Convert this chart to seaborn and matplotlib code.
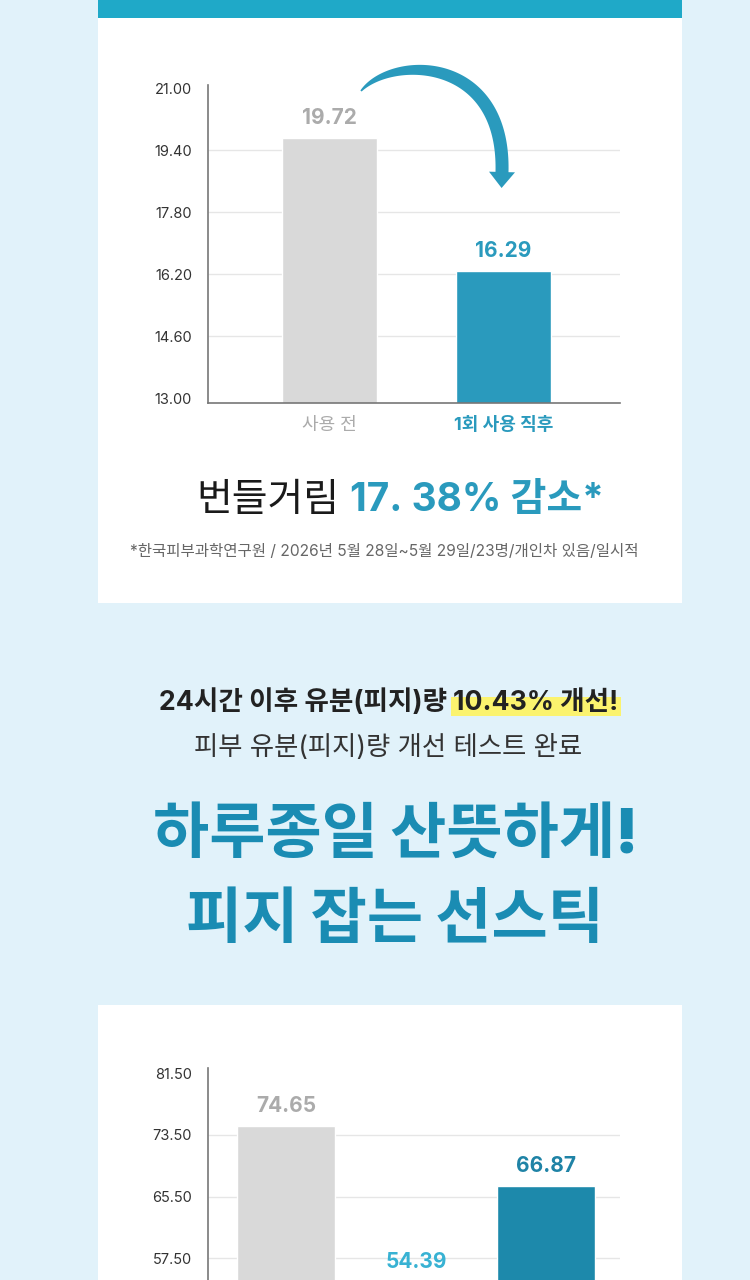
import matplotlib
matplotlib.use("Agg")
import matplotlib.pyplot as plt
import seaborn as sns
import numpy as np
import pandas as pd
from matplotlib.patches import Rectangle, Polygon

# ---------------- data ----------------
chart1_categories = ["사용 전", "1회 사용 직후"]
chart1_values = [19.72, 16.29]
chart1_yticks = [13.00, 14.60, 16.20, 17.80, 19.40, 21.00]

chart2_categories = ["사용 전", "1회 사용 직후", "24시간 이후"]
chart2_values = [74.65, 54.39, 66.87]
chart2_yticks = [57.50, 65.50, 73.50, 81.50]

headline_parts = ["번들거림", "17. 38% 감소*"]
footnote = "*한국피부과학연구원 / 2026년 5월 28일~5월 29일/23명/개인차 있음/일시적"
claim_parts = ["24시간 이후 유분(피지)량", "10.43% 개선!"]
subclaim = "피부 유분(피지)량 개선 테스트 완료"
title_lines = ["하루종일 산뜻하게!", "피지 잡는 선스틱"]

# ---------------- style ----------------
BG = "#e1f2fa"
TEAL = "#2a9abd"
TEAL_DARK = "#1d89ab"
TEAL_LIGHT = "#5fc2dc"
GRAY_BAR = "#d9d9d9"
GRAY_TXT = "#ababab"

sns.set_theme(style="white")
plt.rcParams['font.family'] = ['Inter', 'Noto Sans CJK KR', 'DejaVu Sans']

W, H = 750, 1280
fig = plt.figure(figsize=(7.5, 12.8), dpi=100)
fig.patch.set_facecolor(BG)


def fx(x):
    return x / W


def fy(y):
    return 1 - y / H


def add_rect(x0, y0, x1, y1, color, z=-5):
    fig.add_artist(Rectangle((fx(x0), fy(y1)), (x1 - x0) / W, (y1 - y0) / H,
                             transform=fig.transFigure, facecolor=color,
                             edgecolor='none', zorder=z))


def px_axes(left, top, right, bottom):
    return fig.add_axes([fx(left), fy(bottom), (right - left) / W, (bottom - top) / H])


# cards
add_rect(98, -10, 682, 603, "white")
add_rect(98, -10, 682, 18, "#1fa9c8", z=-4)
add_rect(98, 1005, 682, 1300, "white")

# ---------------- chart 1 ----------------
ax1 = px_axes(208, 85, 620, 403)
df1 = pd.DataFrame({"cat": chart1_categories, "val": chart1_values})
sns.barplot(data=df1, x="cat", y="val", hue="cat",
            palette=[GRAY_BAR, TEAL], saturation=1, width=0.55,
            legend=False, ax=ax1, zorder=2)
ax1.set_xlim(-0.70, 1.67)
ax1.set_ylim(13 - 5 / 38.75, 21 + 3 / 38.75)
ax1.hlines(chart1_yticks[1:-1], -0.70, 1.67, color="#e6e6e6", lw=1, zorder=0.5)


def style_axes(ax, yticks):
    ax.set_facecolor('none')
    for s in ["top", "right"]:
        ax.spines[s].set_visible(False)
    for s in ["left", "bottom"]:
        ax.spines[s].set_color("#777777")
        ax.spines[s].set_linewidth(1.2)
    ax.set_yticks(yticks)
    ax.set_yticklabels([f"{v:.2f}" for v in yticks])
    ax.tick_params(axis='y', length=0, pad=11.5, labelsize=10.5, labelcolor="#333333")
    ax.tick_params(axis='x', length=0, pad=10, labelsize=13)
    ax.set_xlabel("")
    ax.set_ylabel("")


style_axes(ax1, chart1_yticks)
for lbl, col, wt in zip(ax1.get_xticklabels(), [GRAY_TXT, TEAL], ["medium", "bold"]):
    lbl.set_color(col)
    lbl.set_fontweight(wt)

for cont, col in zip(ax1.containers, [GRAY_TXT, TEAL]):
    ax1.bar_label(cont, fmt="%.2f", padding=7, color=col, fontsize=15, fontweight='bold')

# curved arrow (decoration)
P = np.array([[361, 91], [392, 55], [505, 55], [502, 172]], dtype=float)
t = np.linspace(0, 1, 100)
pts = (((1 - t) ** 3)[:, None] * P[0] + (3 * (1 - t) ** 2 * t)[:, None] * P[1]
       + (3 * (1 - t) * t ** 2)[:, None] * P[2] + (t ** 3)[:, None] * P[3])
d = (3 * ((1 - t) ** 2)[:, None] * (P[1] - P[0]) + (6 * (1 - t) * t)[:, None] * (P[2] - P[1])
     + (3 * t ** 2)[:, None] * (P[3] - P[2]))
d = d / np.linalg.norm(d, axis=1)[:, None]
nrm = np.stack([-d[:, 1], d[:, 0]], axis=1)
wid = 0.8 + 5.7 * (1 - (1 - t) ** 3)
left = pts + nrm * wid[:, None]
right = pts - nrm * wid[:, None]
end_dir = d[-1]
end_n = nrm[-1]
head = [P[3] + end_n * 13, P[3] + end_dir * 16, P[3] - end_n * 13]
poly = np.vstack([left, head, right[::-1]])
poly_fig = np.column_stack([poly[:, 0] / W, 1 - poly[:, 1] / H])
fig.add_artist(Polygon(poly_fig, closed=True, transform=fig.transFigure,
                       facecolor=TEAL, edgecolor='none', zorder=5))

# ---------------- texts ----------------
renderer = fig.canvas.get_renderer()


def segmented(y, segments, size, xc, gap=0.0):
    texts = []
    for s, col, wt in segments:
        texts.append(fig.text(0, fy(y), s, color=col, fontsize=size, fontweight=wt,
                              ha='left', va='center'))
    widths = [tx.get_window_extent(renderer).width for tx in texts]
    total = sum(widths) + gap * (len(texts) - 1)
    x = xc - total / 2
    spans = []
    for tx, w in zip(texts, widths):
        tx.set_x(fx(x))
        spans.append((x, x + w))
        x += w + gap
    return spans


segmented(500, [(headline_parts[0], "#1a1a1a", "medium"),
                (headline_parts[1], TEAL, "bold")], 28, 400, gap=10)
fig.text(fx(384), fy(551), footnote, color="#666666", fontsize=11.2, ha='center', va='center')

spans = segmented(703, [(claim_parts[0], "#222222", "bold"),
                        (claim_parts[1], "#222222", "bold")], 19.2, 389, gap=6)
hx0, hx1 = spans[1]
add_rect(hx0 - 2, 697, hx1 + 2, 716, "#fbf36e", z=-3)

fig.text(fx(388), fy(748), subclaim, color="#333333", fontsize=19, ha='center', va='center')

fig.text(fx(396), fy(837), title_lines[0], color="#1a8cb3", fontsize=44,
         fontweight='black', ha='center', va='center')
fig.text(fx(395), fy(922), title_lines[1], color="#1a8cb3", fontsize=44,
         fontweight='black', ha='center', va='center')

# ---------------- chart 2 ----------------
ax2 = px_axes(208, 1068, 620, 1381)
df2 = pd.DataFrame({"cat": chart2_categories, "val": chart2_values})
sns.barplot(data=df2, x="cat", y="val", hue="cat",
            palette=[GRAY_BAR, TEAL_LIGHT, TEAL_DARK], saturation=1, width=0.75,
            legend=False, ax=ax2, zorder=2)
ax2.set_xlim(-0.60, 2.57)
ax2.set_ylim(41.5, 81.5 + 5.5 / 7.6875)
ax2.hlines(chart2_yticks[:-1], -0.60, 2.57, color="#e6e6e6", lw=1, zorder=0.5)
style_axes(ax2, chart2_yticks)
ax2.tick_params(axis='x', labelbottom=False)
for cont, col in zip(ax2.containers, [GRAY_TXT, "#38b2d3", "#1f83a6"]):
    ax2.bar_label(cont, fmt="%.2f", padding=7, color=col, fontsize=15, fontweight='bold')

fig.savefig("out.png", dpi=100, facecolor=BG)
